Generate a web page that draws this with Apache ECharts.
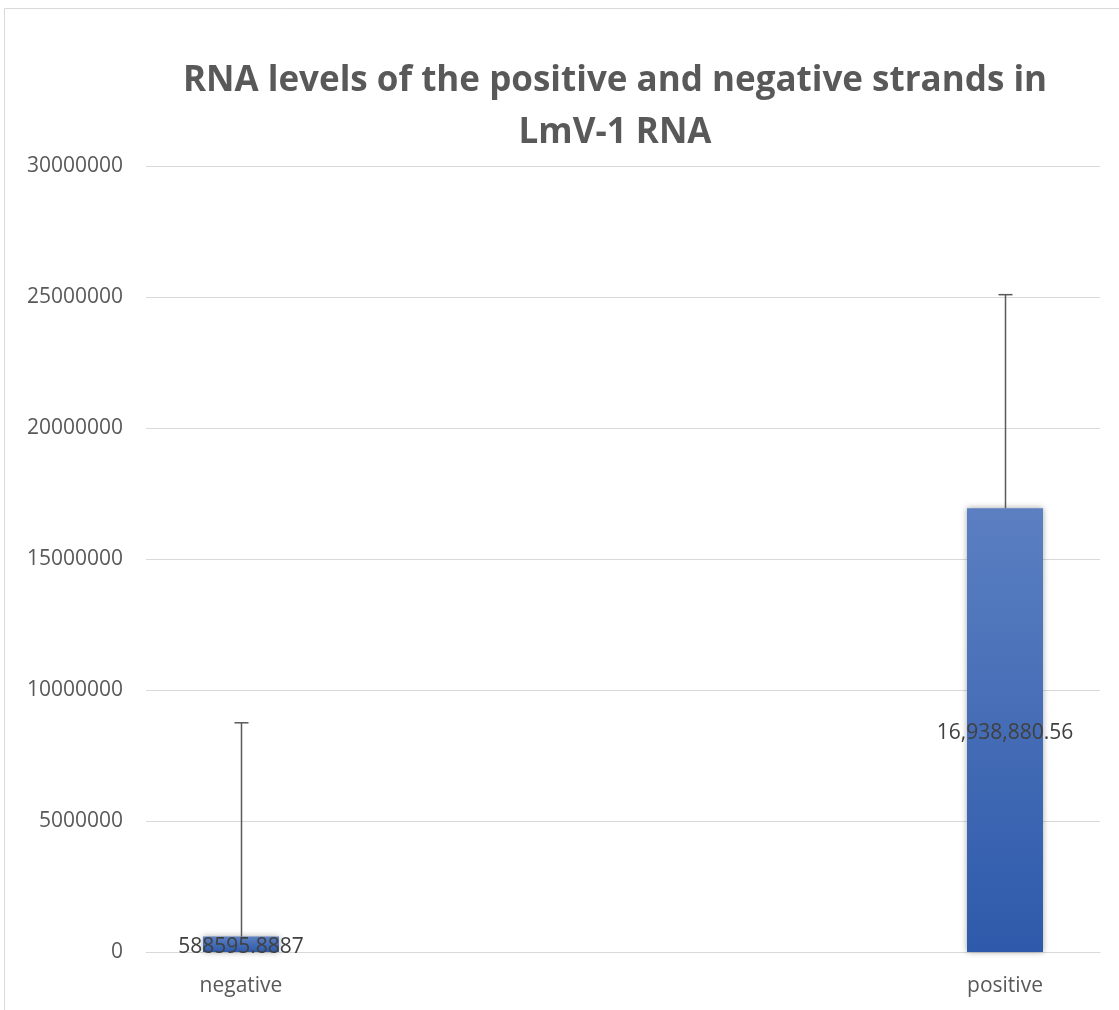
<!DOCTYPE html>
<html>
<head>
<meta charset="utf-8">
<script src="https://cdn.jsdelivr.net/npm/echarts@6/dist/echarts.min.js"></script>
<style>
  html, body { margin: 0; padding: 0; background: #fff; }
  #chart { width: 1119px; height: 1010px; }
</style>
</head>
<body>
<div id="chart"></div>
<script>
// RNA levels by strand, with upper error bars
const categories = ['negative', 'positive'];
const values = [588595.8887, 16938880.56];
const errorsPlus = [8160000, 8150000];
const labelTexts = ['588595.8887', '16,938,880.56'];
const yTicks = [0, 5000000, 10000000, 15000000, 20000000, 25000000, 30000000];

const yMin = yTicks[0];
const yMax = yTicks[yTicks.length - 1];
const yStep = yTicks[1] - yTicks[0];

const chart = echarts.init(document.getElementById('chart'));

const textColor = '#595959';
const gridTop = 166, gridBottom = 1010 - 952;

const option = {
  backgroundColor: '#ffffff',
  animation: false,
  title: {
    text: 'RNA levels of the positive and negative strands in\nLmV-1 RNA',
    left: 610,
    textAlign: 'center',
    top: 50,
    textStyle: {
      fontFamily: 'Open Sans',
      fontWeight: 'bold',
      fontSize: 35,
      lineHeight: 52,
      color: textColor
    }
  },
  graphic: [{
    type: 'rect',
    shape: { x: 4.5, y: 8.5, width: 1200, height: 1100 },
    style: { fill: null, stroke: '#d9d9d9', lineWidth: 1 },
    silent: true,
    z: -10
  }],
  grid: [
    { left: 146, right: 19, top: gridTop, bottom: gridBottom },
    { left: 241, right: 1119 - 1005, top: gridTop, bottom: gridBottom }
  ],
  xAxis: [
    {
      gridIndex: 0, type: 'category', data: categories,
      axisLine: { show: true, lineStyle: { color: '#d9d9d9', width: 1 } },
      axisTick: { show: false }, axisLabel: { show: false }
    },
    {
      gridIndex: 1, type: 'category', data: categories, boundaryGap: false,
      axisLine: { show: false }, axisTick: { show: false },
      axisLabel: {
        color: textColor, fontFamily: 'Open Sans', fontSize: 21, margin: 24
      }
    }
  ],
  yAxis: [
    {
      gridIndex: 0, type: 'value', min: yMin, max: yMax, interval: yStep,
      axisLine: { show: false }, axisTick: { show: false },
      axisLabel: {
        color: textColor, fontFamily: 'Open Sans', fontSize: 21, margin: 23,
        formatter: v => String(v)
      },
      splitLine: { lineStyle: { color: '#d9d9d9', width: 1 } }
    },
    {
      gridIndex: 1, type: 'value', min: yMin, max: yMax, interval: yStep,
      axisLine: { show: false }, axisTick: { show: false },
      axisLabel: { show: false }, splitLine: { show: false }
    }
  ],
  series: [
    {
      type: 'bar',
      xAxisIndex: 1, yAxisIndex: 1,
      barWidth: 76,
      data: values.map((v, i) => ({ value: v, label: { formatter: labelTexts[i] } })),
      itemStyle: {
        color: new echarts.graphic.LinearGradient(0, 0, 0, 1, [
          { offset: 0, color: '#5b7fc1' },
          { offset: 1, color: '#2e5aab' }
        ]),
        shadowColor: 'rgba(0,0,0,0.35)',
        shadowBlur: 6
      },
      label: {
        show: true,
        position: 'inside',
        offset: [0, 3],
        color: '#404040',
        fontFamily: 'Open Sans',
        fontSize: 21
      },
      z: 2
    },
    {
      type: 'custom',
      xAxisIndex: 1, yAxisIndex: 1,
      data: values.map((v, i) => [i, v, v + errorsPlus[i]]),
      renderItem: (params, api) => {
        const base = api.coord([api.value(0), api.value(1)]);
        const top = api.coord([api.value(0), api.value(2)]);
        const x = Math.round(base[0]) + 0.5;
        const half = 7;
        const style = { stroke: '#595959', lineWidth: 1.5 };
        return {
          type: 'group',
          children: [
            { type: 'line', shape: { x1: x, y1: base[1], x2: x, y2: top[1] }, style },
            { type: 'line', shape: { x1: x - half, y1: top[1], x2: x + half, y2: top[1] }, style }
          ]
        };
      },
      z: 3
    }
  ]
};

chart.setOption(option);
</script>
</body>
</html>
